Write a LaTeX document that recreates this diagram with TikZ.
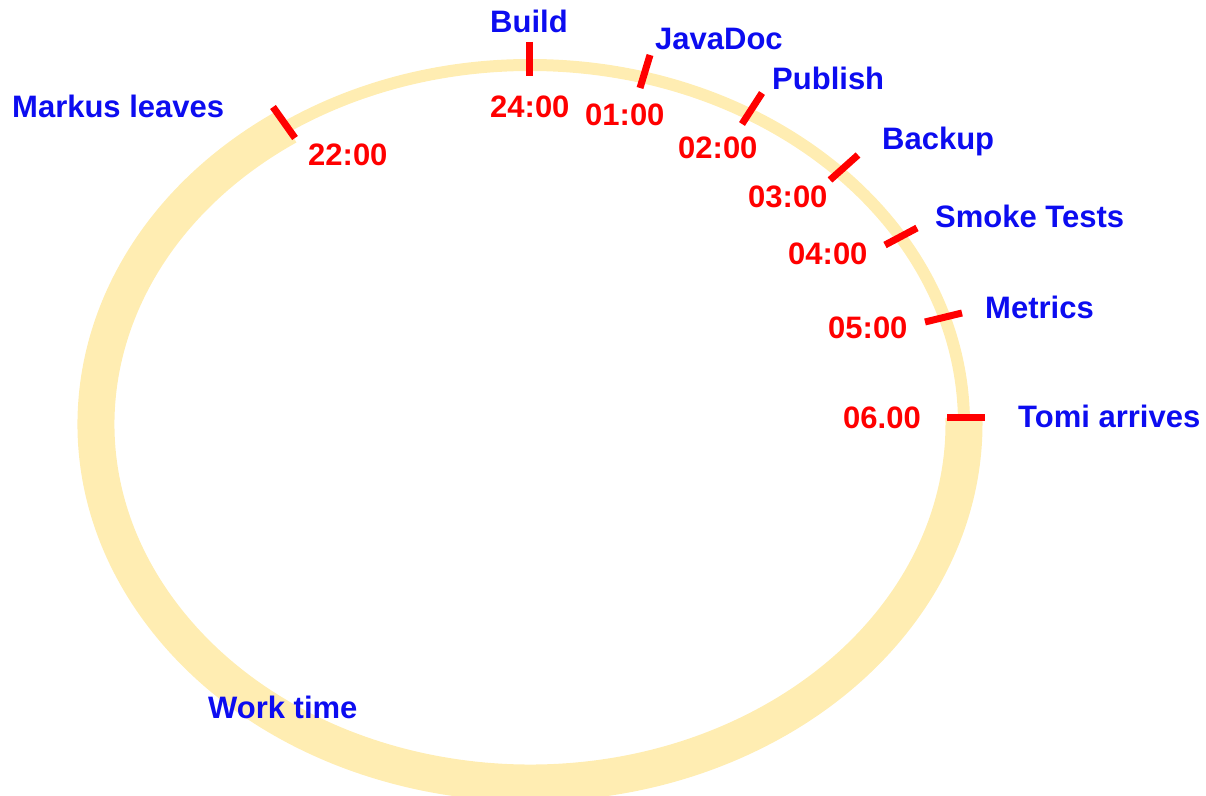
\documentclass[tikz,border=0pt]{standalone}
\usepackage{fontspec}
\setmainfont{Liberation Sans}
\definecolor{ringcol}{RGB}{255,237,178}
\definecolor{eventcol}{RGB}{12,12,240}
\definecolor{tickcol}{RGB}{255,0,0}
\begin{document}
\begin{tikzpicture}[x=1pt,y=1pt,
  txt/.style={inner sep=0pt, anchor=base west, font=\fontsize{31}{31}\selectfont\bfseries},
  event/.style={txt, text=eventcol},
  hour/.style={txt, text=tickcol},
  tickline/.style={draw=tickcol, line width=7pt},
  night/.style={draw=ringcol, line width=12pt},
  work/.style={draw=ringcol, line width=37pt}]
\useasboundingbox (0,0) rectangle (1206,795);

% the day as an ellipse: thin during the night, thick during work time
\coordinate (C) at (530,371);
\draw[night] (C) ellipse [x radius=434, y radius=359];
\draw[work] (C) ++(124:434 and 359) arc[start angle=124, end angle=361, x radius=434, y radius=359];

% hour ticks
\coordinate (t24a) at (529,753); \coordinate (t24b) at (529,719);
\coordinate (t22a) at (273,688); \coordinate (t22b) at (295,657);
\coordinate (t01a) at (650,740); \coordinate (t01b) at (640,707);
\coordinate (t02a) at (762,702); \coordinate (t02b) at (742,671);
\coordinate (t03a) at (858,640); \coordinate (t03b) at (830,615);
\coordinate (t04a) at (917,567); \coordinate (t04b) at (885,550);
\coordinate (t05a) at (962,482); \coordinate (t05b) at (925,473);
\coordinate (t06a) at (947,377); \coordinate (t06b) at (985,377);
\foreach \h in {24,22,01,02,03,04,05,06}
  \draw[tickline] (t\h a) -- (t\h b);

% events
\node[event] (build)   at (490,762) {Build};
\node[event] (markus)  at (12,677)  {Markus leaves};
\node[event] (javadoc) at (655,745) {JavaDoc};
\node[event] (publish) at (772,705) {Publish};
\node[event] (backup)  at (882,645) {Backup};
\node[event] (smoke)   at (935,567) {Smoke Tests};
\node[event] (metrics) at (985,476) {Metrics};
\node[event] (tomi)    at (1018,367) {Tomi arrives};
\node[event] (work)    at (208,77)  {Work time};

% hours
\node[hour] (h24) at (490,677) {24:00};
\node[hour] (h22) at (308,629) {22:00};
\node[hour] (h01) at (585,669) {01:00};
\node[hour] (h02) at (678,636) {02:00};
\node[hour] (h03) at (748,587) {03:00};
\node[hour] (h04) at (788,530) {04:00};
\node[hour] (h05) at (828,456) {05:00};
\node[hour] (h06) at (843,366) {06.00};
\end{tikzpicture}
\end{document}
